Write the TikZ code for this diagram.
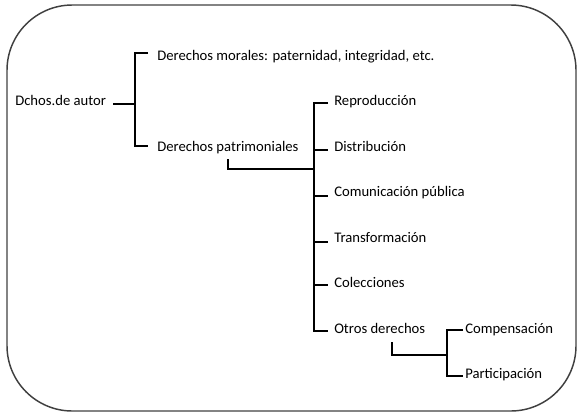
\documentclass[tikz,border=0pt]{standalone}
\usepackage{fontspec}
\setmainfont{Carlito}
\begin{document}
\begin{tikzpicture}[x=0.75pt,y=-0.75pt,
  lbl/.style={anchor=base west,inner sep=0pt,font=\fontsize{11pt}{13pt}\selectfont},
  conn/.style={draw=black,line width=0.8pt},
  frame/.style={draw=black!75,line width=1.1pt,rounded corners=49pt}]
\useasboundingbox (0,0) rectangle (580,418);
\draw[frame] (7,5) rectangle (576,411);
% nodes
\node[lbl] (root) at (15,105) {Dchos.de autor};
\node[lbl] (mor) at (157,60) {Derechos morales: paternidad, integridad, etc.};
\node[lbl] (pat) at (157,151) {Derechos patrimoniales};
\node[lbl] (rep) at (334,105.5) {Reproducción};
\node[lbl] (dis) at (334,151) {Distribución};
\node[lbl] (com) at (334,196.5) {Comunicación pública};
\node[lbl] (tra) at (334,242) {Transformación};
\node[lbl] (col) at (334,287) {Colecciones};
\node[lbl] (otr) at (334,333) {Otros derechos};
\node[lbl] (cmp) at (465,333) {Compensación};
\node[lbl] (par) at (465,378) {Participación};
% junction coordinates
\coordinate (r0) at (113,104);
\coordinate (j1) at (135,104);
\coordinate (m0) at (148,53);
\coordinate (p0) at (148,146);
\coordinate (pa) at (228,159);
\coordinate (j2) at (314,169);
\coordinate (t1) at (328,103);
\coordinate (t2) at (328,150);
\coordinate (t3) at (328,196);
\coordinate (t4) at (328,242);
\coordinate (t5) at (328,285);
\coordinate (t6) at (328,331);
\coordinate (oa) at (392,342);
\coordinate (j3) at (447,355);
\coordinate (c1) at (463,330);
\coordinate (c2) at (463,376);
% connectors
\draw[conn] (r0) -- (j1);
\draw[conn] (m0) -| (j1) |- (p0);
\draw[conn] (pa) |- (j2);
\draw[conn] (t1) -| (j2) |- (t6);
\draw[conn] (j2 |- t2) -- (t2);
\draw[conn] (j2 |- t3) -- (t3);
\draw[conn] (j2 |- t4) -- (t4);
\draw[conn] (j2 |- t5) -- (t5);
\draw[conn] (oa) |- (j3);
\draw[conn] (c1) -| (j3) |- (c2);
\end{tikzpicture}
\end{document}
